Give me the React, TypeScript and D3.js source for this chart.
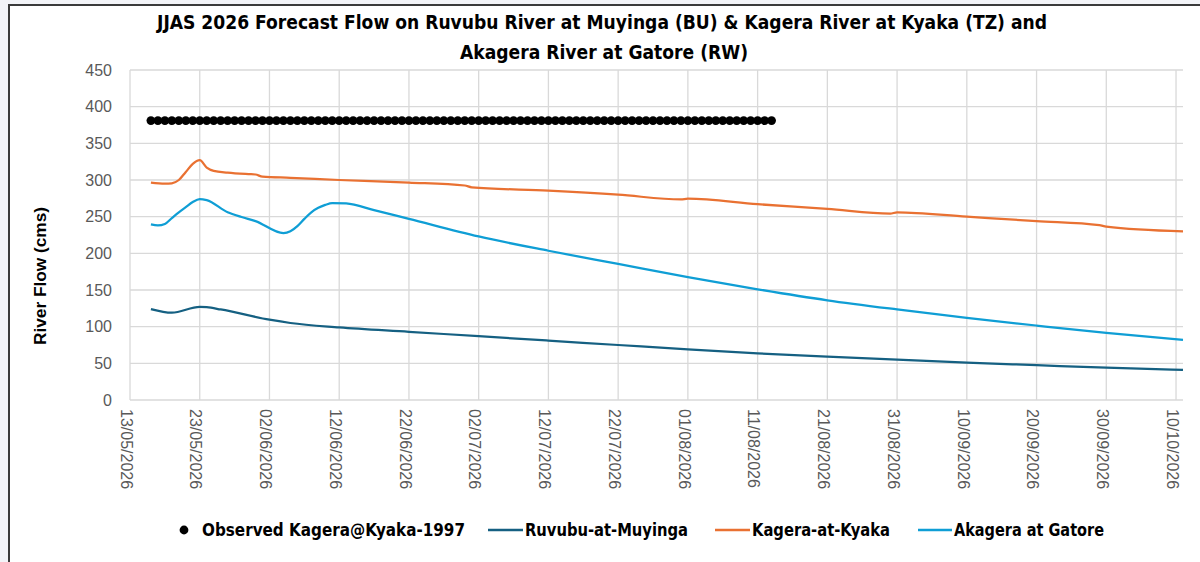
import React from 'react';
import * as d3 from 'd3';

// Axis ticks
const yTicks = [0, 50, 100, 150, 200, 250, 300, 350, 400, 450];
const xTickDates = [
  '2026-05-13', '2026-05-23', '2026-06-02', '2026-06-12', '2026-06-22', '2026-07-02',
  '2026-07-12', '2026-07-22', '2026-08-01', '2026-08-11', '2026-08-21', '2026-08-31',
  '2026-09-10', '2026-09-20', '2026-09-30', '2026-10-10',
];

// Observed Kagera@Kyaka-1997 (daily, 16/05 - 13/08)
const observedStart = '2026-05-16';
const observedEnd = '2026-08-13';
const observedFlow = [
  381, 381, 381, 381, 381, 381, 381, 381, 381, 381, 381, 381, 381, 381, 381,
  381, 381, 381, 381, 381, 381, 381, 381, 381, 381, 381, 381, 381, 381, 381,
  381, 381, 381, 381, 381, 381, 381, 381, 381, 381, 381, 381, 381, 381, 381,
  381, 381, 381, 381, 381, 381, 381, 381, 381, 381, 381, 381, 381, 381, 381,
  381, 381, 381, 381, 381, 381, 381, 381, 381, 381, 381, 381, 381, 381, 381,
  381, 381, 381, 381, 381, 381, 381, 381, 381, 381, 381, 381, 381, 381, 381,
];

// Ruvubu-at-Muyinga
const ruvubuDates = [
  '2026-05-16', '2026-05-19', '2026-05-23', '2026-05-24', '2026-05-26', '2026-06-02',
  '2026-06-05', '2026-06-12', '2026-06-22', '2026-07-02', '2026-07-12', '2026-07-22',
  '2026-08-01', '2026-08-11', '2026-08-21', '2026-08-31', '2026-09-10', '2026-09-20',
  '2026-09-30', '2026-10-11',
];
const ruvubuFlow = [
  124, 119, 127, 126.5, 123.5, 109.5, 105, 99, 93, 87, 81, 75, 69, 63.5, 59, 55, 51, 47.5, 44, 41,
];

// Kagera-at-Kyaka
const kageraDates = [
  '2026-05-16', '2026-05-18', '2026-05-19', '2026-05-20', '2026-05-21', '2026-05-22',
  '2026-05-23', '2026-05-24', '2026-05-25', '2026-05-27', '2026-05-30', '2026-05-31',
  '2026-06-01', '2026-06-05', '2026-06-12', '2026-06-22', '2026-06-30', '2026-07-01',
  '2026-07-12', '2026-07-22', '2026-07-31', '2026-08-01', '2026-08-11', '2026-08-21',
  '2026-08-30', '2026-08-31', '2026-09-10', '2026-09-20', '2026-09-29', '2026-09-30',
  '2026-10-11',
];
const kageraFlow = [
  296.5, 295, 295.5, 300, 311, 322, 327, 317, 312.5, 310, 308, 307.5,
  304.5, 303, 300, 296.5, 292.5, 290, 285.5, 280, 273.5, 274.5, 267, 260.5,
  254, 256, 250, 244, 238.5, 236.5, 230,
];

// Akagera at Gatore
const akageraDates = [
  '2026-05-16', '2026-05-17', '2026-05-18', '2026-05-19', '2026-05-20', '2026-05-21',
  '2026-05-22', '2026-05-23', '2026-05-24', '2026-05-27', '2026-05-29', '2026-05-31',
  '2026-06-04', '2026-06-05', '2026-06-06', '2026-06-07', '2026-06-08', '2026-06-09',
  '2026-06-10', '2026-06-11', '2026-06-13', '2026-06-17', '2026-06-22', '2026-07-02',
  '2026-07-12', '2026-07-22', '2026-08-01', '2026-08-11', '2026-08-21', '2026-08-31',
  '2026-09-10', '2026-09-20', '2026-09-30', '2026-10-11',
];
const akageraFlow = [
  239.5, 238, 240, 248, 256, 263, 270, 274, 272.5, 256, 249.5, 244,
  227.5, 230, 237, 247, 256, 262, 266, 268.5, 268, 259, 247, 223,
  203.5, 185.5, 167.5, 151, 136, 123.5, 112, 101.5, 91.5, 82,
];

const parse = d3.utcParse('%Y-%m-%d');
const fmt = d3.utcFormat('%d/%m/%Y');

const narrow = '"Liberation Sans Narrow", "DejaVu Sans Condensed", "Roboto Condensed", Arial, sans-serif';
const sans = '"Liberation Sans", Arial, sans-serif';

export default function App() {
  const x = d3.scaleUtc()
    .domain([parse('2026-05-13')!, parse('2026-10-11')!])
    .range([130, 1183]);
  const y = d3.scaleLinear().domain([0, 450]).range([400, 70]);

  const line = d3.line<[Date, number]>()
    .x(d => x(d[0]))
    .y(d => y(d[1]))
    .curve(d3.curveMonotoneX);

  const zip = (dates: string[], vals: number[]) =>
    dates.map((d, i) => [parse(d)!, vals[i]] as [Date, number]);

  const series = [
    { name: 'Ruvubu-at-Muyinga', color: '#156082', data: zip(ruvubuDates, ruvubuFlow) },
    { name: 'Kagera-at-Kyaka', color: '#E97132', data: zip(kageraDates, kageraFlow) },
    { name: 'Akagera at Gatore', color: '#0F9ED5', data: zip(akageraDates, akageraFlow) },
  ];

  const obsDays = d3.utcDay.range(parse(observedStart)!, d3.utcDay.offset(parse(observedEnd)!, 1));
  const observed = obsDays.map((d, i) => [d, observedFlow[i]] as [Date, number]);

  const [x0, x1] = x.range();

  return (
    <div style={{ position: 'fixed', left: 0, top: 0, width: 1200, height: 562 }}>
      <svg width={1200} height={562} style={{ display: 'block' }}>
        <rect x={0} y={0} width={1200} height={562} fill="#f3f4f8" />
        <rect x={9} y={5} width={1220} height={600} fill="#ffffff" stroke="#3b3b3b" strokeWidth={2} />

        {/* title */}
        <g fontFamily={narrow} fontWeight="bold" fontSize={19.5} fill="#000">
          <text x={157} y={29} textLength={890} lengthAdjust="spacingAndGlyphs">
            JJAS 2026 Forecast Flow on Ruvubu River at Muyinga (BU) &amp; Kagera River at Kyaka (TZ) and
          </text>
          <text x={460} y={59} textLength={288} lengthAdjust="spacingAndGlyphs">
            Akagera River at Gatore (RW)
          </text>
        </g>

        {/* gridlines */}
        <g stroke="#d9d9d9" strokeWidth={1.3}>
          {yTicks.map(t => (
            <line key={t} x1={x0} x2={x1} y1={y(t)} y2={y(t)} />
          ))}
          {xTickDates.map(d => (
            <line key={d} x1={x(parse(d)!)} x2={x(parse(d)!)} y1={y(450)} y2={y(0)} />
          ))}
        </g>

        {/* y ticks */}
        <g fontFamily={sans} fontSize={16} fill="#595959" textAnchor="end">
          {yTicks.map(t => (
            <text key={t} x={112} y={y(t)} dy="0.35em">{t}</text>
          ))}
        </g>

        {/* x ticks */}
        <g fontFamily={sans} fontSize={16} fill="#595959">
          {xTickDates.map(d => (
            <text key={d} transform={`translate(${x(parse(d)!)},409) rotate(90)`} dy="0.58em">
              {fmt(parse(d)!)}
            </text>
          ))}
        </g>

        {/* y axis title */}
        <text
          transform="translate(40,276) rotate(-90)"
          textAnchor="middle"
          dy="0.35em"
          fontFamily={sans}
          fontWeight="bold"
          fontSize={16}
          textLength={138}
          lengthAdjust="spacingAndGlyphs"
        >
          River Flow (cms)
        </text>

        {/* series */}
        {series.map(s => (
          <path key={s.name} d={line(s.data) ?? ''} fill="none" stroke={s.color} strokeWidth={2.25} />
        ))}
        <g fill="#000">
          {observed.map((d, i) => (
            <circle key={i} cx={x(d[0])} cy={y(d[1])} r={4.4} />
          ))}
        </g>

        {/* legend */}
        <g fontFamily={narrow} fontWeight="bold" fontSize={17} fill="#000">
          <circle cx={184} cy={530} r={4.4} />
          <text x={202} y={530} dy="0.35em" textLength={263} lengthAdjust="spacingAndGlyphs">
            Observed Kagera@Kyaka-1997
          </text>
          <line x1={488} x2={523} y1={530} y2={530} stroke="#156082" strokeWidth={2.5} />
          <text x={525} y={530} dy="0.35em" textLength={163} lengthAdjust="spacingAndGlyphs">
            Ruvubu-at-Muyinga
          </text>
          <line x1={715} x2={750} y1={530} y2={530} stroke="#E97132" strokeWidth={2.5} />
          <text x={752} y={530} dy="0.35em" textLength={138} lengthAdjust="spacingAndGlyphs">
            Kagera-at-Kyaka
          </text>
          <line x1={918} x2={952} y1={530} y2={530} stroke="#0F9ED5" strokeWidth={2.5} />
          <text x={954} y={530} dy="0.35em" textLength={150} lengthAdjust="spacingAndGlyphs">
            Akagera at Gatore
          </text>
        </g>
      </svg>
    </div>
  );
}
